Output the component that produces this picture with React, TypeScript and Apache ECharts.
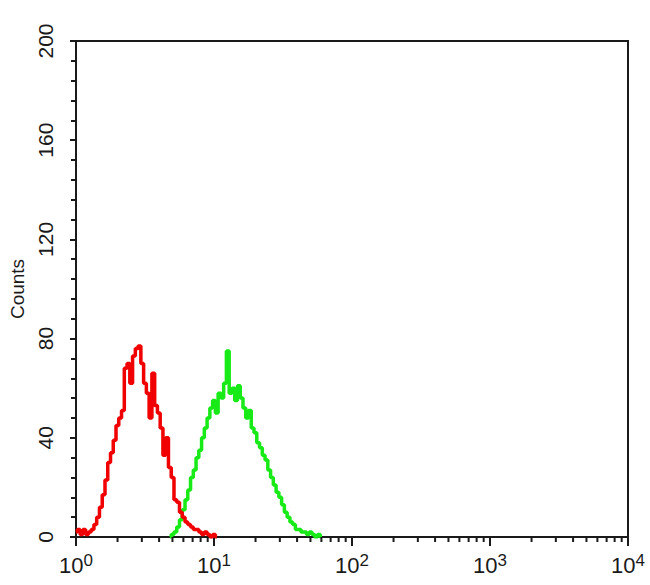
import React, { useEffect, useRef } from "react";
import * as echarts from "echarts";

// Histogram bin centres (fluorescence, log scale)
const redX = [
  1.0, 1.047, 1.096, 1.148, 1.202, 1.259, 1.318, 1.38, 1.445, 1.514,
  1.585, 1.66, 1.738, 1.82, 1.905, 1.995, 2.089, 2.188, 2.291, 2.399,
  2.512, 2.63, 2.754, 2.884, 3.02, 3.162, 3.311, 3.467, 3.631, 3.802,
  3.981, 4.169, 4.365, 4.571, 4.786, 5.012, 5.248, 5.495, 5.754, 6.026,
  6.31, 6.607, 6.918, 7.244, 7.586, 7.943, 8.318, 8.71, 9.12, 9.55, 10.0, 10.47,
];
const redCounts = [
  2, 3, 1, 3, 1, 2, 3, 5, 8, 12,
  17, 23, 30, 34, 39, 45, 48, 51, 68, 70,
  62, 73, 76, 77, 70, 62, 58, 48, 66, 53,
  50, 44, 33, 40, 28, 24, 15, 14, 10, 8,
  6, 5, 4, 3, 3, 2, 1, 2, 1, 0, 1, 0,
];

const greenX = [
  4.786, 5.012, 5.248, 5.495, 5.754, 6.026, 6.31, 6.607, 6.918, 7.244,
  7.586, 7.943, 8.318, 8.71, 9.12, 9.55, 10.0, 10.47, 10.96, 11.48,
  12.02, 12.59, 13.18, 13.8, 14.45, 15.14, 15.85, 16.6, 17.38, 18.2,
  19.05, 19.95, 20.89, 21.88, 22.91, 23.99, 25.12, 26.3, 27.54, 28.84,
  30.2, 31.62, 33.11, 34.67, 36.31, 38.02, 39.81, 41.69, 43.65, 45.71,
  47.86, 50.12, 52.48, 54.95, 57.54, 60.26,
];
const greenCounts = [
  0, 1, 2, 4, 7, 11, 15, 19, 24, 27,
  32, 35, 40, 44, 48, 52, 55, 50, 58, 56,
  62, 75, 58, 60, 55, 61, 56, 52, 48, 51,
  44, 42, 38, 36, 33, 31, 27, 24, 21, 18,
  16, 13, 10, 8, 6, 5, 3, 3, 2, 2,
  1, 2, 1, 0, 1, 0,
];

// Minor tick positions on the log axis
const xMinorTicks = [
  2, 3, 4, 5, 6, 7, 8, 9,
  20, 30, 40, 50, 60, 70, 80, 90,
  200, 300, 400, 500, 600, 700, 800, 900,
  2000, 3000, 4000, 5000, 6000, 7000, 8000, 9000,
];

const yTitle = "Counts";

export default function App() {
  const ref = useRef<HTMLDivElement>(null);
  useEffect(() => {
    if (!ref.current) return;
    const chart = echarts.init(ref.current, null, { renderer: "svg" });
    const font = "'Liberation Sans', Arial, sans-serif";
    const ink = "#1a1a1a";
    chart.setOption({
      animation: false,
      backgroundColor: "#ffffff",
      grid: {
        left: 72,
        right: 22,
        top: 41,
        bottom: 48,
        show: true,
        borderColor: ink,
        borderWidth: 2,
        backgroundColor: "transparent",
      },
      xAxis: {
        type: "log",
        logBase: 10,
        min: 1,
        max: 10000,
        axisLine: { show: true, lineStyle: { color: ink, width: 2 } },
        axisTick: { show: true, length: 9, lineStyle: { color: ink, width: 2 } },
        splitLine: { show: false },
        axisLabel: {
          margin: 15,
          color: ink,
          fontFamily: font,
          formatter: (v: number) => `{b|10}{s|${Math.round(Math.log10(v))}}`,
          rich: {
            b: { fontSize: 22, fontFamily: font, color: ink },
            s: { fontSize: 17, fontFamily: font, color: ink, padding: [0, 0, 9, 0] },
          },
        },
      },
      yAxis: {
        type: "value",
        min: 0,
        max: 200,
        interval: 40,
        name: yTitle,
        nameLocation: "middle",
        nameRotate: 90,
        nameGap: 49,
        nameTextStyle: { fontSize: 19, fontFamily: font, color: ink },
        axisLine: { show: true, lineStyle: { color: ink, width: 2 } },
        axisTick: { show: true, length: 6, lineStyle: { color: ink, width: 2 } },
        minorTick: { show: true, splitNumber: 5, length: 5, lineStyle: { color: ink, width: 2 } },
        splitLine: { show: false },
        axisLabel: {
          rotate: 90,
          margin: 20,
          fontSize: 21,
          fontFamily: font,
          color: ink,
        },
      },
      series: [
        {
          type: "line",
          step: "middle",
          symbol: "none",
          data: greenX.map((x, i) => [x, greenCounts[i]]),
          lineStyle: { color: "#17ea17", width: 3.5 },
          z: 2,
        },
        {
          type: "line",
          step: "middle",
          symbol: "none",
          data: redX.map((x, i) => [x, redCounts[i]]),
          lineStyle: { color: "#f00000", width: 3.5 },
          z: 3,
        },
        {
          type: "custom",
          silent: true,
          clip: false,
          data: xMinorTicks.map((v) => [v, 0]),
          renderItem: (params: any, api: any) => {
            const p = api.coord([api.value(0), 0]);
            return {
              type: "line",
              shape: { x1: p[0], y1: p[1], x2: p[0], y2: p[1] + 5 },
              style: { stroke: ink, lineWidth: 2 },
            };
          },
          z: 4,
        },
      ],
    });
    return () => chart.dispose();
  }, []);
  return (
    <div
      ref={ref}
      style={{ position: "fixed", left: 0, top: 0, width: 650, height: 585, background: "#fff" }}
    />
  );
}
